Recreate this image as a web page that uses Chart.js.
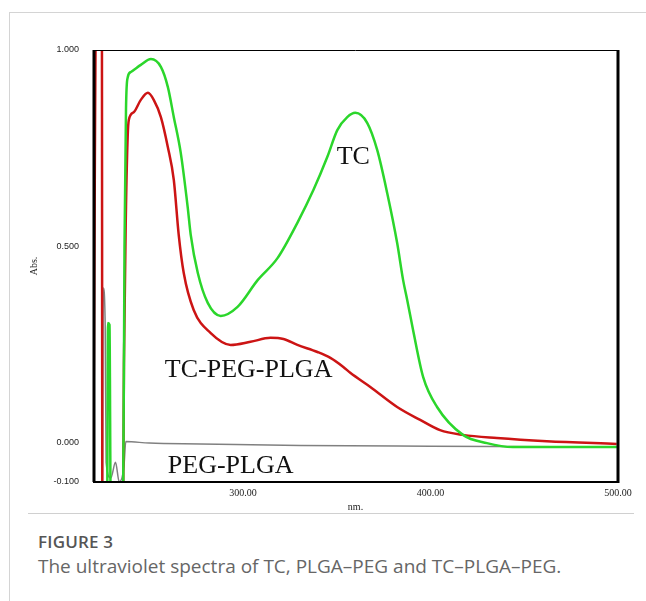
<!DOCTYPE html>
<html>
<head>
<meta charset="utf-8">
<script src="https://cdn.jsdelivr.net/npm/chart.js@4"></script>
<style>
  body { margin:0; background:#fff; width:646px; height:601px; overflow:hidden; position:relative; }
  #card { position:absolute; left:9px; top:12px; width:637px; height:589px; border-left:1px solid #d4d4d4; border-top:1px solid #d4d4d4; }
  #wrap { position:absolute; left:0; top:0; width:646px; height:520px; }
  #rule { position:absolute; left:28px; top:513px; width:606px; height:0; border-top:1px solid #d0d0d0; }
  #fig { position:absolute; left:38px; top:530px; font:600 17px "Open Sans", sans-serif; color:#555; letter-spacing:0.2px; }
  #cap { position:absolute; left:38px; top:553px; font:19px "Open Sans", sans-serif; color:#666; }
</style>
</head>
<body>
<div id="card"></div>
<div id="wrap"><canvas id="chart" width="646" height="520"></canvas></div>
<div id="rule"></div>
<div id="fig">FIGURE 3</div>
<div id="cap">The ultraviolet spectra of TC, PLGA&#8211;PEG and TC&#8211;PLGA&#8211;PEG.</div>
<script>
const yTicks = [-0.1, 0, 0.5, 1.0];
const xTicks = [300, 400, 500];

// TC (green)
const tcNm  = [220, 227.5, 228, 228.8, 229.5, 236, 236.8, 237.6, 238.5, 240.2, 245.5, 250.9, 256.2, 259.9, 263.1, 266.8, 270.5, 272.1, 275.9, 281.2, 288.1, 297.1, 307.8, 318.4, 329, 337.6, 345, 350.3, 355.6, 359.9, 366.3, 371.6, 376.9, 382.2, 385.4, 387.6, 390.7, 396.1, 403.5, 417.3, 430.1, 443.9, 470, 499.3];
const tcAbs = [-0.2, -0.2, 0.305, 0.30, -0.2, -0.2, 0.5, 0.85, 0.93, 0.944, 0.962, 0.977, 0.957, 0.906, 0.829, 0.738, 0.600, 0.530, 0.432, 0.356, 0.323, 0.346, 0.414, 0.470, 0.560, 0.644, 0.728, 0.796, 0.829, 0.840, 0.814, 0.745, 0.636, 0.509, 0.414, 0.363, 0.287, 0.167, 0.091, 0.020, -0.001, -0.011, -0.011, -0.011];

// TC-PEG-PLGA (red)
const tppNm  = [220, 221.9, 224.7, 225, 236, 236.5, 237.6, 238.5, 239.1, 241.8, 245.5, 249.3, 252.4, 256.2, 259.9, 263.1, 265.7, 268.4, 273.7, 282.8, 293.4, 304.0, 314.7, 321.6, 329.0, 339.7, 346.6, 353.5, 357.2, 367.9, 382.2, 394.5, 405.1, 417.3, 435.4, 462, 499.3];
const tppAbs = [-0.2, 1.2, 1.2, -0.2, -0.2, 0.2, 0.6, 0.78, 0.822, 0.842, 0.873, 0.891, 0.873, 0.829, 0.753, 0.669, 0.53, 0.432, 0.338, 0.279, 0.249, 0.257, 0.267, 0.264, 0.249, 0.231, 0.216, 0.193, 0.178, 0.142, 0.091, 0.058, 0.032, 0.020, 0.012, 0.004, -0.003];

// PEG-PLGA (gray)
const pegNm  = [220, 225, 225.5, 226.5, 227, 229.5, 232, 234, 236.5, 237.5, 250, 277.4, 330.6, 400, 500];
const pegAbs = [-0.2, -0.2, 0.394, 0.30, -0.05, -0.09, -0.05, -0.1, -0.06, 0.003, -0.001, -0.003, -0.007, -0.009, -0.011];

// curve labels: [text, nm, abs]
const labels = [["TC", 358.8, 0.728], ["TC-PEG-PLGA", 303, 0.185], ["PEG-PLGA", 293.4, -0.059]];

const pts = (xs, ys) => xs.map((x, i) => ({x: x, y: ys[i]}));

const framePlugin = {
  id: "frame",
  afterDatasetsDraw(chart) {
    const ctx = chart.ctx, a = chart.chartArea;
    const xs = chart.scales.x, ys = chart.scales.y;
    ctx.save();
    ctx.fillStyle = "#111";
    ctx.textAlign = "center";
    ctx.textBaseline = "middle";
    ctx.font = "26px 'Liberation Serif', serif";
    labels.forEach(l => ctx.fillText(l[0], xs.getPixelForValue(l[1]), ys.getPixelForValue(l[2])));
    ctx.strokeStyle = "#000";
    ctx.lineWidth = 1;
    ctx.beginPath(); ctx.moveTo(a.left, a.top + 0.5); ctx.lineTo(a.right, a.top + 0.5); ctx.stroke();
    ctx.lineWidth = 2;
    ctx.beginPath(); ctx.moveTo(a.left, a.bottom); ctx.lineTo(a.right, a.bottom); ctx.stroke();
    ctx.lineWidth = 3;
    ctx.beginPath(); ctx.moveTo(a.left + 1, a.top); ctx.lineTo(a.left + 1, a.bottom); ctx.stroke();
    ctx.beginPath(); ctx.moveTo(a.right, a.top); ctx.lineTo(a.right, a.bottom + 1); ctx.stroke();
    ctx.restore();
  }
};

new Chart(document.getElementById("chart"), {
  type: "line",
  data: {
    datasets: [
      { label: "TC", data: pts(tcNm, tcAbs), borderColor: "#2bd62b", borderWidth: 2.5 },
      { label: "TC-PEG-PLGA", data: pts(tppNm, tppAbs), borderColor: "#cc1414", borderWidth: 2.5 },
      { label: "PEG-PLGA", data: pts(pegNm, pegAbs), borderColor: "#808080", borderWidth: 1.5 }
    ]
  },
  options: {
    responsive: false,
    animation: false,
    events: [],
    elements: { point: { radius: 0 }, line: { cubicInterpolationMode: "monotone" } },
    layout: { padding: { left: 0, top: 50, right: 28, bottom: 0 } },
    plugins: { legend: { display: false }, tooltip: { enabled: false } },
    scales: {
      x: {
        type: "linear", min: 220, max: 500,
        afterBuildTicks: s => { s.ticks = xTicks.map(v => ({value: v})); },
        afterFit: s => { s.height = 38; },
        grid: { display: false, drawTicks: false },
        border: { display: false },
        ticks: { padding: 5, color: "#222", font: { family: "'Liberation Serif', serif", size: 10 }, callback: v => v.toFixed(2), maxRotation: 0 },
        title: { display: true, text: "nm.", color: "#222", font: { family: "'Liberation Serif', serif", size: 10 }, padding: { top: 0, bottom: 7 } }
      },
      y: {
        min: -0.1, max: 1.0,
        afterBuildTicks: s => { s.ticks = yTicks.map(v => ({value: v})); },
        afterFit: s => { s.width = 93; },
        grid: { display: false, drawTicks: false },
        border: { display: false },
        ticks: { padding: 14, color: "#222", font: { family: "'Liberation Sans', sans-serif", size: 9 }, callback: v => v.toFixed(3) },
        title: { display: true, text: "Abs.", color: "#222", font: { family: "'Liberation Serif', serif", size: 10 }, padding: { top: 28, bottom: 0 } }
      }
    }
  },
  plugins: [framePlugin]
});
</script>
</body>
</html>
